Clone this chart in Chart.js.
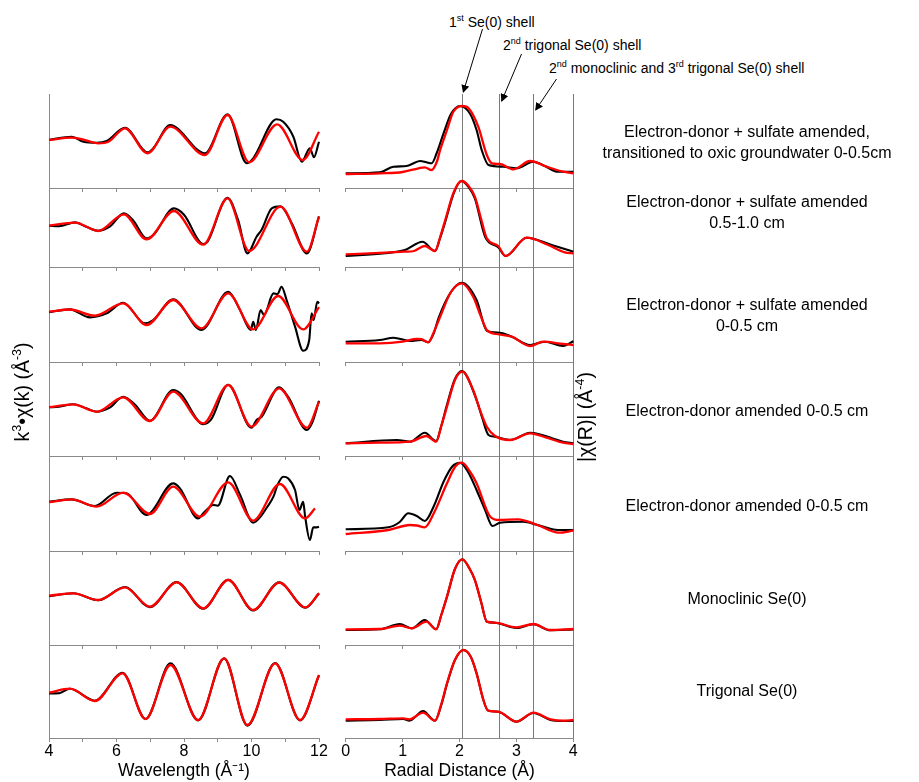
<!DOCTYPE html>
<html><head><meta charset="utf-8">
<script src="https://cdn.jsdelivr.net/npm/chart.js@4.4.1/dist/chart.umd.min.js"></script>
<style>
html,body{margin:0;padding:0;background:#fff;}
body{width:919px;height:782px;overflow:hidden;position:relative;font-family:"Liberation Sans",Arial,Helvetica,sans-serif;color:#000;}
canvas{position:absolute;}
.lbl{position:absolute;width:340px;text-align:center;font-size:16px;line-height:21px;white-space:nowrap;}
.ann{position:absolute;font-size:14px;line-height:16px;white-space:nowrap;}
.ann sup{font-size:9px;line-height:0;vertical-align:6px;}
.ytitle{position:absolute;width:240px;height:24px;line-height:24px;text-align:center;font-size:19.5px;transform:rotate(-90deg);white-space:nowrap;}
.ytitle sup{font-size:12.5px;line-height:0;vertical-align:8px;}
</style></head><body>
<script>
// ---------------- DATA ----------------
const kTicks = [4,5,6,7,8,9,10,11,12];
const kTickLabels = [4,6,8,10,12];
const rTicks = [0,1,2,3,4];
const rTickLabels = [0,1,2,3,4];
const shellLines = [2.05,2.7,3.3,4];
const kTitle = 'Wavelength (Å⁻¹)';
const rTitle = 'Radial Distance (Å)';
const sampleLabels = [
  ['Electron-donor + sulfate amended,','transitioned to oxic groundwater 0-0.5cm'],
  ['Electron-donor + sulfate amended','0.5-1.0 cm'],
  ['Electron-donor + sulfate amended','0-0.5 cm'],
  ['Electron-donor amended 0-0.5 cm'],
  ['Electron-donor amended 0-0.5 cm'],
  ['Monoclinic Se(0)'],
  ['Trigonal Se(0)']
];
const kRanges = [[-4.8,4.6],[-4.13,3.77],[-5.03,4.47],[-4.93,4.47],[-4.93,4.57],[-4.93,4.47],[-4.53,4.77]];
const rRanges = [[0,9.4],[0,7.9],[0,9.5],[0,9.4],[0,9.5],[0,9.4],[0,9.3]];

// k-space (k^3 chi(k)), black = data, red = fit
const k1Black = [[4,0],[4.67,0.33],[5.02,-0.17],[5.41,-0.27],[5.71,-0.1],[6.25,1.23],[6.92,-1.23],[7.09,-0.83],[7.59,1.5],[8.62,-1.33],[9.29,2.57],[9.86,-2.33],[10.05,-1.83],[10.74,2.07],[10.94,1.83],[11.24,0.33],[11.49,-2.17],[11.73,-0.83],[11.85,-1.73],[12,-0.17]];
const k1Red = [[4,0],[4.67,0.23],[5.0,0.05],[5.46,-0.33],[5.75,-0.2],[6.25,1.17],[6.92,-1.33],[7.59,1.33],[8.62,-1.5],[9.29,2.5],[9.93,-2.23],[10.76,1.57],[11.52,-2.0],[12,0.83]];
const k2Black = [[4,0],[4.3,-0.05],[4.77,0.33],[5.1,-0.1],[5.46,-0.5],[5.8,-0.1],[6.22,1.23],[6.5,0.5],[6.89,-1.27],[7.1,-0.9],[7.7,1.73],[8.0,1.1],[8.57,-1.83],[8.7,-1.6],[9.29,2.8],[9.6,0.6],[9.88,-2.77],[10.15,-1.1],[10.3,-0.4],[10.6,1.73],[10.86,1.93],[11.2,0.2],[11.64,-2.77],[12,0.93]];
const k2Red = [[4,0],[4.77,0.3],[5.46,-0.53],[6.22,1.13],[6.89,-1.37],[7.7,1.47],[8.57,-1.9],[9.29,2.73],[9.93,-2.53],[10.86,1.9],[11.64,-2.6],[12,0.9]];
const k3Black = [[4,-0.05],[4.62,0.23],[5.21,-0.57],[5.71,-0.17],[6.2,0.9],[6.84,-1.16],[7.09,-0.83],[7.68,1.23],[8.52,-1.83],[9.31,2.0],[9.66,0.17],[9.98,-1.83],[10.05,-1.0],[10.13,-1.83],[10.27,0.17],[10.37,-0.33],[10.65,1.83],[10.77,1.77],[10.89,2.5],[11.04,1.17],[11.29,-1.5],[11.53,-3.9],[11.71,-2.83],[11.78,-0.17],[11.84,-0.83],[11.95,1.0],[12,0.83]];
const k3Red = [[4,0],[4.62,0.22],[5.36,-0.4],[6.2,0.83],[6.89,-1.33],[7.68,1.17],[8.52,-1.67],[9.31,1.83],[10.05,-1.77],[10.79,1.57],[11.53,-1.77],[12,0.45]];
const k4Black = [[4,-0.05],[4.3,0.0],[4.72,0.25],[5.1,-0.15],[5.41,-0.5],[5.8,-0.1],[6.2,1.0],[6.55,0.2],[6.99,-1.4],[7.68,1.67],[7.9,1.3],[8.57,-1.75],[8.8,-1.3],[9.31,2.2],[10.0,-2.1],[10.15,-1.33],[10.3,-1.0],[10.82,1.93],[11.1,0.9],[11.64,-2.33],[11.8,-1.6],[12,0.6]];
const k4Red = [[4,-0.05],[4.72,0.23],[5.41,-0.5],[6.2,0.93],[6.99,-1.43],[7.68,1.5],[8.57,-1.67],[9.31,2.17],[10.0,-2.0],[10.82,1.83],[11.64,-2.1],[12,0.5]];
const k5Black = [[4,0],[4.67,0.23],[5.36,-0.43],[6.0,0.9],[6.3,0.85],[6.89,-1.33],[7.68,1.83],[7.88,1.33],[8.42,-1.67],[8.57,-1.17],[8.87,-0.33],[9.0,-0.4],[9.36,2.57],[9.66,0.7],[10.05,-2.1],[10.25,-1.57],[10.45,-0.6],[10.65,0.5],[10.77,1.67],[10.94,2.5],[11.09,2.33],[11.29,1.17],[11.42,-0.83],[11.53,0.0],[11.59,-1.5],[11.73,-3.83],[11.83,-2.57],[11.93,-2.57],[12,-2.5]];
const k5Red = [[4,-0.05],[4.67,0.23],[5.41,-0.5],[6.2,0.9],[6.99,-1.23],[7.68,1.5],[8.47,-1.5],[9.31,1.93],[10.05,-1.9],[10.84,1.77],[11.59,-1.67],[11.88,-0.67]];
const k6Black = [[4,-0.05],[4.72,0.25],[5.46,-0.45],[6.25,0.87],[6.99,-1.15],[7.78,1.37],[8.57,-1.3],[9.31,1.6],[10.05,-1.47],[10.82,1.33],[11.6,-1.2],[12,0.25]];
const k6Red = [[4,0],[4.72,0.23],[5.46,-0.43],[6.25,0.83],[6.99,-1.1],[7.78,1.33],[8.57,-1.27],[9.31,1.57],[10.05,-1.43],[10.82,1.3],[11.6,-1.17],[12,0.23]];
const k7Black = [[4,-0.07],[4.3,-0.05],[4.62,0.4],[5.36,-0.8],[6.18,2.0],[6.86,-2.63],[7.6,2.93],[8.42,-2.77],[9.19,3.43],[9.88,-3.3],[10.7,2.97],[11.44,-2.77],[12,1.73]];
const k7Red = [[4,0],[4.62,0.4],[5.36,-0.83],[6.18,1.93],[6.86,-2.63],[7.6,2.77],[8.42,-2.73],[9.19,3.43],[9.88,-3.23],[10.7,2.93],[11.44,-2.73],[12,1.77]];

// R-space |chi(R)|, black = data, red = fit
const r1Black = [[0,1.47],[0.6,1.57],[0.84,2.13],[1.07,2.2],[1.31,2.7],[1.42,2.57],[1.51,2.47],[1.6,3.5],[1.72,5.47],[1.85,7.4],[2.01,8.2],[2.18,7.47],[2.3,5.8],[2.39,3.8],[2.51,2.3],[2.77,2.13],[3.0,1.97],[3.3,2.63],[3.5,2.2],[3.71,1.63],[4,1.63]];
const r1Red = [[0,1.4],[0.6,1.47],[1.0,1.6],[1.28,1.97],[1.39,2.07],[1.51,1.8],[1.6,2.6],[1.66,3.8],[1.78,5.8],[1.89,7.6],[2.05,8.2],[2.16,7.97],[2.33,6.13],[2.48,3.3],[2.57,2.47],[2.71,2.4],[2.95,1.87],[3.24,2.7],[3.53,2.13],[3.82,1.63],[4,1.47]];
const r2Black = [[0,1.1],[0.69,1.37],[1.04,1.7],[1.35,2.53],[1.57,1.6],[1.66,2.9],[1.75,4.53],[1.9,7.4],[2.03,8.6],[2.16,8.0],[2.27,6.87],[2.45,3.03],[2.68,1.97],[2.81,1.1],[3.18,2.93],[3.62,2.2],[3.85,1.8],[4,1.53]];
const r2Red = [[0,1.27],[0.69,1.43],[1.04,1.53],[1.2,1.6],[1.39,2.1],[1.57,1.6],[1.66,3.0],[1.75,4.7],[1.9,7.5],[2.04,8.6],[2.16,8.1],[2.27,7.03],[2.38,4.8],[2.48,2.87],[2.68,2.1],[2.81,1.1],[3.18,2.93],[3.56,2.2],[3.85,1.47],[4,1.37]];
const r3Black = [[0,2.03],[0.6,2.2],[0.84,2.43],[1.13,2.1],[1.33,2.2],[1.45,1.97],[1.55,2.9],[1.63,4.37],[1.85,7.0],[2.04,7.93],[2.3,6.2],[2.48,3.13],[2.71,2.93],[2.92,2.53],[3.24,1.7],[3.5,2.03],[3.82,1.6],[4,2.07]];
const r3Red = [[0,1.87],[0.6,1.87],[1.0,2.03],[1.25,2.3],[1.33,2.28],[1.45,1.97],[1.55,3.0],[1.66,4.53],[1.85,7.0],[2.04,7.87],[2.24,6.53],[2.38,4.5],[2.48,3.2],[2.65,2.8],[2.92,2.53],[3.24,1.6],[3.47,2.03],[3.82,1.8],[4,1.7]];
const r4Black = [[0,1.27],[0.9,1.6],[1.13,1.43],[1.39,2.33],[1.59,1.5],[1.68,3.0],[1.77,4.93],[1.92,7.7],[2.04,8.5],[2.3,5.6],[2.4,3.8],[2.51,2.1],[2.62,1.93],[2.89,1.6],[3.24,2.33],[3.82,1.43],[4,1.27]];
const r4Red = [[0,1.27],[0.6,1.33],[1.13,1.43],[1.42,2.0],[1.59,1.43],[1.68,3.0],[1.78,4.93],[1.92,7.6],[2.05,8.43],[2.24,6.6],[2.36,4.6],[2.48,2.93],[2.62,2.03],[2.89,1.6],[3.24,2.27],[3.53,1.83],[3.82,1.33],[4,1.2]];
const r5Black = [[0,2.17],[0.75,2.37],[0.95,2.9],[1.1,3.77],[1.25,3.5],[1.39,3.0],[1.55,4.5],[1.72,6.93],[1.88,8.5],[2.01,8.83],[2.15,7.9],[2.3,6.1],[2.45,4.1],[2.58,2.5],[2.71,2.83],[3.12,2.93],[3.37,2.6],[3.73,2.1],[4,2.1]];
const r5Red = [[0,1.7],[0.75,2.1],[1.13,2.6],[1.25,2.55],[1.39,2.37],[1.55,3.8],[1.78,6.77],[1.92,8.4],[2.04,8.83],[2.2,7.8],[2.3,6.77],[2.54,3.43],[2.7,3.1],[3.03,3.17],[3.37,2.6],[3.74,1.83],[4,2.03]];
const r6Black = [[0,1.5],[0.6,1.57],[0.95,2.1],[1.16,1.67],[1.39,2.5],[1.59,1.57],[1.68,3.0],[1.78,4.83],[1.92,7.6],[2.05,8.57],[2.18,7.6],[2.27,6.5],[2.38,4.3],[2.48,2.33],[2.62,2.23],[3.0,1.7],[3.3,2.07],[3.59,1.47],[4,1.55]];
const r6Red = [[0,1.57],[0.6,1.6],[0.95,1.93],[1.16,1.67],[1.42,2.33],[1.59,1.57],[1.68,3.0],[1.78,4.83],[1.92,7.6],[2.05,8.57],[2.18,7.6],[2.27,6.5],[2.38,4.3],[2.48,2.33],[2.62,2.23],[3.0,1.77],[3.3,2.1],[3.59,1.5],[4,1.6]];
const r7Black = [[0,1.73],[0.6,1.8],[1.01,1.9],[1.12,1.73],[1.36,2.7],[1.57,1.73],[1.68,3.3],[1.78,5.4],[1.92,7.8],[2.07,8.8],[2.2,8.1],[2.3,6.47],[2.42,3.8],[2.5,2.75],[2.68,2.63],[3.0,1.63],[3.3,2.5],[3.6,1.8],[3.82,1.7],[4,1.7]];
const r7Red = [[0,1.87],[0.6,1.9],[1.01,1.97],[1.12,1.87],[1.36,2.53],[1.57,1.73],[1.68,3.4],[1.78,5.47],[1.92,7.8],[2.07,8.8],[2.2,8.1],[2.3,6.47],[2.42,3.8],[2.5,2.75],[2.68,2.63],[3.0,1.63],[3.3,2.53],[3.6,1.87],[3.82,1.73],[4,1.8]];

const kBlackSets = [k1Black,k2Black,k3Black,k4Black,k5Black,k6Black,k7Black];
const kRedSets = [k1Red,k2Red,k3Red,k4Red,k5Red,k6Red,k7Red];
const rBlackSets = [r1Black,r2Black,r3Black,r4Black,r5Black,r6Black,r7Black];
const rRedSets = [r1Red,r2Red,r3Red,r4Red,r5Red,r6Red,r7Red];

// ---------------- LAYOUT ----------------
const FONT = '"Liberation Sans", Arial, Helvetica, sans-serif';
const GRAY = '#8a8a8a';
const ROWS = [94,188,267,362,456,551,645,738];
const COLS = {k:[49,319], r:[345.7,573.3]};
const PAD = 14;
const AXIS_H = 44;

function makePanel(col, i, black, red){
  const [x0,x1] = COLS[col];
  const top = ROWS[i], bot = ROWS[i+1];
  const last = i === ROWS.length-2;
  const cl = Math.floor(x0) - PAD;
  const ct = top - PAD;
  const cw = Math.ceil(x1) + PAD - cl;
  const padB = last ? 0 : PAD;
  const ch = (bot-top) + PAD + (last ? AXIS_H : 0) + padB;
  const cv = document.createElement('canvas');
  cv.width = cw; cv.height = ch;
  cv.style.left = cl+'px'; cv.style.top = ct+'px';
  cv.style.width = cw+'px'; cv.style.height = ch+'px';
  document.body.appendChild(cv);
  const isK = col === 'k';
  const ticks = isK ? kTicks : rTicks;
  const labels = isK ? kTickLabels : rTickLabels;
  const yr = isK ? kRanges[i] : rRanges[i];
  const scales = {
    x: {
      type:'linear', position:'bottom', min: ticks[0], max: ticks[ticks.length-1],
      afterBuildTicks: s => { s.ticks = ticks.map(v => ({value:v})); },
      ticks: { display: last, autoSkip:false, maxRotation:0, padding:0, color:'#000',
               font:{family:FONT, size:16},
               callback: v => labels.includes(v) ? String(v) : '' },
      grid: { display:true, drawOnChartArea:false, drawTicks:true, tickLength:4, color:GRAY, lineWidth:1 },
      border: { display:true, color:GRAY, width:1 },
      title: { display:last, text: isK ? kTitle : rTitle, color:'#000',
               font:{family:FONT, size:17.5}, padding:{top:0,bottom:0} },
      afterFit: s => { s.height = last ? AXIS_H : 0; }
    },
    y: {
      type:'linear', position:'left', min: yr[0], max: yr[1], display: isK,
      ticks:{display:false}, grid:{display:false, drawTicks:false},
      border:{display:true, color:GRAY, width:1},
      afterFit: s => { s.width = 0; }
    }
  };
  if (!isK){
    scales.shell = {
      type:'linear', axis:'x', position:'top', min: ticks[0], max: ticks[ticks.length-1],
      afterBuildTicks: s => { s.ticks = shellLines.map(v => ({value:v})); },
      ticks:{display:false}, grid:{display:true, drawOnChartArea:true, drawTicks:false, color:'#7a7a7a', lineWidth:1},
      border:{display:false},
      afterFit: s => { s.height = 0; }
    };
  }
  new Chart(cv, {
    type:'line',
    data:{ datasets:[
      { data: red, borderColor:'#ff0000', borderWidth:2.3, pointRadius:0, cubicInterpolationMode:'monotone', order:0, clip:false },
      { data: black, borderColor:'#000000', borderWidth:2.1, pointRadius:0, cubicInterpolationMode:'monotone', order:1, clip:false }
    ]},
    options:{
      responsive:false, maintainAspectRatio:false, animation:false, devicePixelRatio:1, events:[],
      layout:{ padding:{ left: x0-cl, right: cl+cw-x1, top: PAD, bottom: padB } },
      plugins:{ legend:{display:false}, tooltip:{enabled:false}, title:{display:false} },
      scales
    }
  });
}

for (let i=0;i<7;i++){
  makePanel('k', i, kBlackSets[i], kRedSets[i]);
  makePanel('r', i, rBlackSets[i], rRedSets[i]);
}

// sample labels (right side)
const labelCenters = [142,212,315,410,505,598,690];
sampleLabels.forEach((lines, i) => {
  const d = document.createElement('div');
  d.className = 'lbl';
  d.style.left = (747-170)+'px';
  d.style.top = (labelCenters[i] - lines.length*21/2)+'px';
  d.innerHTML = lines.join('<br>');
  document.body.appendChild(d);
});
</script>

<div class="ann" style="left:449px;top:14px;">1<sup>st</sup> Se(0) shell</div>
<div class="ann" style="left:503px;top:37px;">2<sup>nd</sup> trigonal Se(0) shell</div>
<div class="ann" style="left:549px;top:60px;">2<sup>nd</sup> monoclinic and 3<sup>rd</sup> trigonal Se(0) shell</div>

<svg width="919" height="782" style="position:absolute;left:0;top:0;pointer-events:none;">
  <defs>
    <marker id="ah" markerWidth="8" markerHeight="8" refX="7" refY="4" orient="auto" markerUnits="userSpaceOnUse">
      <path d="M0,0 L8,4 L0,8 z" fill="#000"/>
    </marker>
  </defs>
  <line x1="482.5" y1="29" x2="463.3" y2="92" stroke="#000" stroke-width="1" marker-end="url(#ah)"/>
  <line x1="521.5" y1="54" x2="501.7" y2="101" stroke="#000" stroke-width="1" marker-end="url(#ah)"/>
  <line x1="556.5" y1="79" x2="535.7" y2="110" stroke="#000" stroke-width="1" marker-end="url(#ah)"/>
</svg>

<div class="ytitle" style="left:-98px;top:380px;">k<sup>3</sup>•χ(k) (Å<sup>-3</sup>)</div>
<div class="ytitle" style="left:465px;top:405px;">|χ(R)| (Å<sup>-4</sup>)</div>
</body></html>
